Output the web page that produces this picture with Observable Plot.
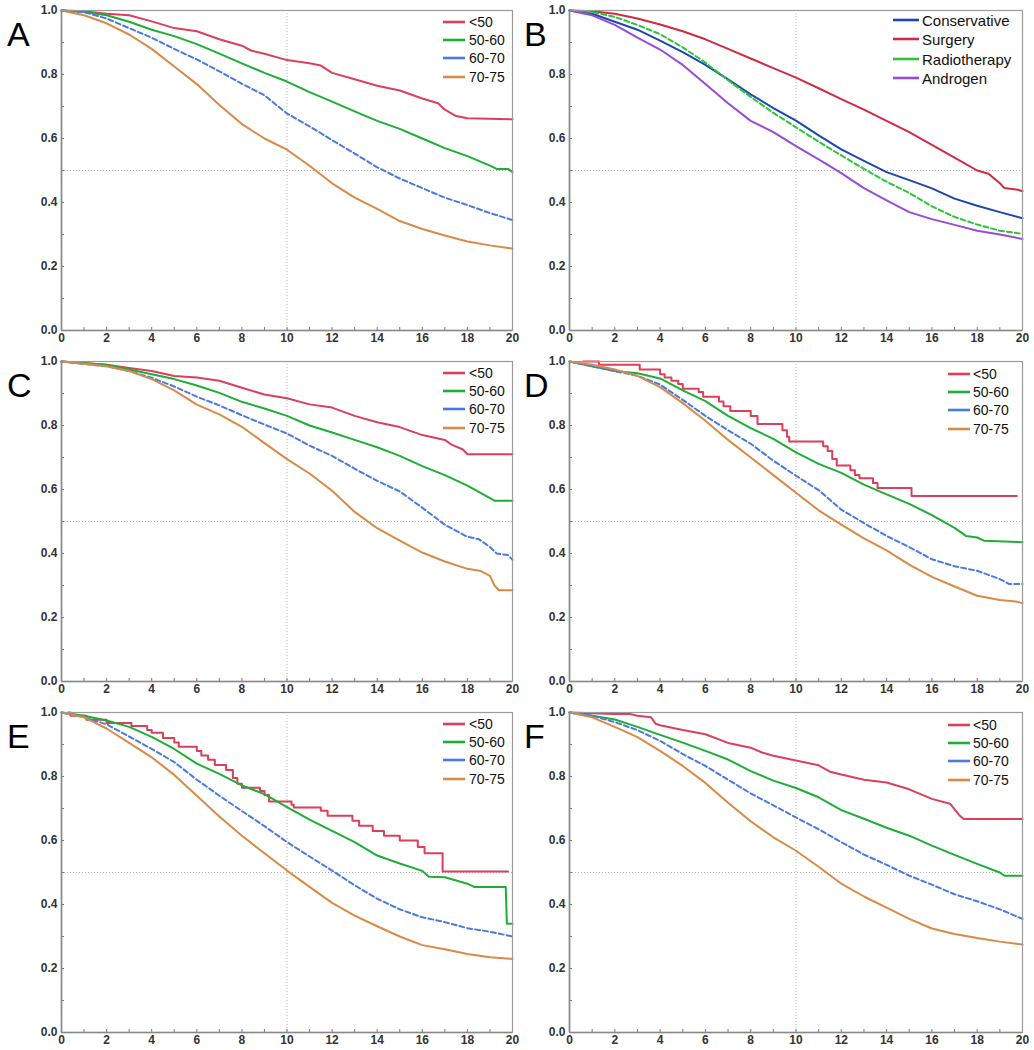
<!DOCTYPE html>
<html>
<head>
<meta charset="utf-8">
<script src="https://cdn.jsdelivr.net/npm/d3@7"></script>
<script src="https://cdn.jsdelivr.net/npm/@observablehq/plot@0.6"></script>
<style>
  html, body { margin: 0; padding: 0; background: #fff; }
  #root { position: relative; width: 1034px; height: 1050px; overflow: hidden; font-family: "Liberation Sans", Arial, sans-serif; }
  .panel { position: absolute; overflow: visible; }
  .panel svg { overflow: visible; }
  .letter { position: absolute; font-size: 34px; line-height: 1; color: #000; }
  .leg { position: absolute; font-size: 14px; color: #111; white-space: nowrap; line-height: 1; }
  .leg svg { position: absolute; top: 50%; transform: translateY(-50%); }
  .leg span { position: absolute; top: 0; transform: translateY(-50%); }
</style>
</head>
<body>
<div id="root"></div>
<script>
// ---------- tick values ----------
const xTicks = [0, 2, 4, 6, 8, 10, 12, 14, 16, 18, 20];
const xMinorTicks = [1, 2, 3, 4, 5, 6, 7, 8, 9, 10, 11, 12, 13, 14, 15, 16, 17, 18, 19];
const yTicks = [0, 0.2, 0.4, 0.6, 0.8, 1.0];
const yMinorTicks = [0.1, 0.2, 0.3, 0.4, 0.5, 0.6, 0.7, 0.8, 0.9];
const ageGroups = ["<50", "50-60", "60-70", "70-75"];
const treatments = ["Conservative", "Surgery", "Radiotherapy", "Androgen"];

// ---------- Panel A (time in years, survival) ----------
const aLt50 = [[0,1],[1,0.998],[2,0.99],[3,0.985],[4,0.966],[5,0.945],[6,0.935],[7,0.91],[8,0.89],[8.4,0.875],[9,0.865],[10,0.845],[11,0.835],[11.5,0.828],[12,0.805],[13,0.785],[14,0.765],[15,0.75],[16,0.725],[16.7,0.71],[17,0.69],[17.5,0.67],[18,0.663],[20,0.66]];
const a5060 = [[0,1],[1,0.995],[2,0.985],[3,0.965],[4,0.94],[5,0.92],[6,0.895],[7,0.865],[8,0.835],[9,0.805],[10,0.778],[11,0.745],[12,0.715],[13,0.685],[14,0.655],[15,0.63],[16,0.6],[17,0.57],[18,0.545],[19,0.515],[19.3,0.505],[19.8,0.505],[20,0.495]];
const a6070 = [[0,1],[1,0.995],[2,0.975],[3,0.945],[4,0.915],[5,0.88],[6,0.847],[7,0.81],[8,0.771],[9,0.735],[10,0.678],[11,0.638],[12,0.595],[13,0.553],[14,0.51],[15,0.475],[16,0.445],[17,0.415],[18,0.392],[19,0.367],[20,0.345]];
const a7075 = [[0,1],[1,0.985],[2,0.96],[3,0.925],[4,0.88],[5,0.825],[6,0.77],[7,0.705],[8,0.645],[9,0.6],[10,0.565],[11,0.515],[12,0.46],[13,0.415],[14,0.38],[15,0.342],[16,0.317],[17,0.297],[18,0.278],[19,0.266],[20,0.256]];

// ---------- Panel B ----------
const bConservative = [[0,1],[1,0.99],[2,0.965],[3,0.94],[4,0.906],[5,0.87],[6,0.83],[7,0.785],[8,0.738],[9,0.695],[10,0.656],[11,0.61],[12,0.566],[13,0.53],[14,0.495],[15,0.47],[16,0.444],[17,0.412],[18,0.39],[19,0.37],[20,0.351]];
const bSurgery = [[0,1],[1,0.998],[2,0.99],[3,0.975],[4,0.956],[5,0.935],[6,0.91],[7,0.88],[8,0.85],[9,0.82],[10,0.79],[11,0.757],[12,0.723],[13,0.69],[14,0.655],[15,0.62],[16,0.58],[17,0.54],[18,0.5],[18.5,0.49],[19,0.46],[19.2,0.445],[19.8,0.44],[20,0.435]];
const bRadiotherapy = [[0,1],[1,0.995],[2,0.98],[3,0.955],[4,0.926],[5,0.885],[6,0.837],[7,0.782],[8,0.73],[9,0.68],[10,0.635],[11,0.59],[12,0.547],[13,0.505],[14,0.465],[15,0.43],[16,0.388],[17,0.355],[18,0.331],[19,0.312],[20,0.302]];
const bAndrogen = [[0,1],[1,0.985],[2,0.955],[3,0.915],[4,0.878],[5,0.83],[6,0.77],[7,0.71],[8,0.655],[9,0.62],[10,0.576],[11,0.535],[12,0.492],[13,0.445],[14,0.407],[15,0.37],[16,0.348],[17,0.33],[18,0.312],[19,0.3],[20,0.286]];

// ---------- Panel C ----------
const cLt50 = [[0,1],[2,0.99],[3,0.98],[4,0.97],[5,0.955],[6,0.95],[7,0.94],[8,0.918],[9,0.897],[10,0.885],[11,0.866],[12,0.856],[13,0.83],[14,0.81],[15,0.795],[16,0.77],[17,0.755],[17.3,0.74],[17.8,0.725],[18,0.71],[20,0.71]];
const c5060 = [[0,1],[2,0.99],[3,0.975],[4,0.96],[5,0.945],[6,0.925],[7,0.902],[8,0.874],[9,0.853],[10,0.83],[11,0.8],[12,0.778],[13,0.755],[14,0.732],[15,0.705],[16,0.673],[17,0.645],[18,0.612],[18.7,0.585],[19.2,0.565],[20,0.565]];
const c6070 = [[0,1],[2,0.985],[3,0.97],[4,0.949],[5,0.922],[6,0.89],[7,0.863],[8,0.832],[9,0.803],[10,0.775],[11,0.737],[12,0.705],[13,0.665],[14,0.627],[15,0.594],[16,0.543],[17,0.49],[18,0.452],[18.5,0.445],[19,0.42],[19.3,0.4],[19.8,0.395],[20,0.38]];
const c7075 = [[0,1],[2,0.985],[3,0.97],[4,0.945],[5,0.91],[6,0.865],[7,0.835],[8,0.796],[9,0.745],[10,0.695],[11,0.65],[12,0.596],[13,0.53],[14,0.479],[15,0.44],[16,0.403],[17,0.375],[18,0.352],[18.6,0.345],[19,0.33],[19.2,0.3],[19.4,0.285],[20,0.285]];

// ---------- Panel D ----------
const dLt50 = [[0.6,1],[1.3,0.99],[3.1,0.975],[4.0,0.96],[4.2,0.95],[4.5,0.94],[4.8,0.93],[5.0,0.915],[5.7,0.905],[5.9,0.89],[6.6,0.875],[6.8,0.86],[7.1,0.845],[8.0,0.83],[8.3,0.805],[9.4,0.785],[9.6,0.765],[9.7,0.75],[11.2,0.735],[11.4,0.72],[11.6,0.695],[11.8,0.675],[12.4,0.66],[12.6,0.645],[12.8,0.635],[13.4,0.62],[13.6,0.605],[15.1,0.58],[19.75,0.58]];
const d5060 = [[0,1],[1,0.985],[2,0.97],[3,0.963],[4,0.947],[5,0.91],[6,0.876],[7,0.83],[8,0.792],[9,0.758],[10,0.716],[11,0.68],[12,0.652],[13,0.615],[14,0.585],[15,0.555],[16,0.52],[17,0.48],[17.5,0.455],[18,0.45],[18.3,0.44],[20,0.435]];
const d6070 = [[0,1],[1,0.985],[2,0.97],[3,0.955],[4,0.928],[5,0.88],[6,0.83],[7,0.785],[8,0.743],[9,0.69],[10,0.643],[11,0.598],[12,0.537],[13,0.495],[14,0.455],[15,0.42],[16,0.382],[17,0.36],[18,0.346],[19,0.32],[19.4,0.305],[20,0.305]];
const d7075 = [[0,1],[1,0.99],[2,0.975],[3,0.955],[4,0.92],[5,0.87],[6,0.815],[7,0.755],[8,0.7],[9,0.645],[10,0.59],[11,0.535],[12,0.49],[13,0.447],[14,0.41],[15,0.365],[16,0.327],[17,0.297],[18,0.268],[19,0.255],[19.7,0.25],[20,0.245]];

// ---------- Panel E ----------
const eLt50 = [[0.3,1],[0.4,0.99],[1.1,0.977],[2.0,0.967],[3.1,0.958],[3.8,0.945],[4.0,0.937],[4.5,0.92],[5.0,0.906],[5.2,0.893],[6.0,0.88],[6.2,0.866],[6.5,0.852],[6.8,0.836],[7.3,0.82],[7.6,0.795],[7.8,0.777],[8.0,0.765],[8.8,0.755],[9.0,0.742],[9.2,0.722],[10.2,0.712],[10.3,0.703],[11.5,0.693],[11.8,0.677],[12.9,0.662],[13.2,0.646],[13.8,0.63],[14.3,0.615],[15.0,0.6],[15.8,0.58],[16.1,0.56],[16.9,0.503],[19.8,0.503]];
const e5060 = [[0,1],[1,0.99],[2,0.975],[3,0.955],[4,0.924],[5,0.886],[6,0.84],[7,0.808],[8,0.772],[9,0.745],[10,0.704],[11,0.665],[12,0.63],[13,0.595],[14,0.553],[15,0.528],[16,0.505],[16.3,0.487],[17,0.485],[18,0.465],[18.3,0.455],[19.7,0.455],[19.75,0.34],[20,0.34]];
const e6070 = [[0,1],[1,0.985],[2,0.963],[3,0.925],[4,0.886],[5,0.845],[6,0.79],[7,0.74],[8,0.692],[9,0.645],[10,0.595],[11,0.55],[12,0.506],[13,0.46],[14,0.418],[15,0.385],[16,0.36],[17,0.345],[18,0.326],[19,0.315],[20,0.3]];
const e7075 = [[0,1],[1,0.985],[2,0.95],[3,0.905],[4,0.86],[5,0.805],[6,0.74],[7,0.675],[8,0.615],[9,0.56],[10,0.506],[11,0.455],[12,0.405],[13,0.365],[14,0.332],[15,0.3],[16,0.273],[17,0.26],[18,0.245],[19,0.235],[20,0.23]];

// ---------- Panel F ----------
const fLt50 = [[0,1],[2,0.995],[2.7,0.995],[3,0.99],[3.6,0.985],[3.8,0.965],[4,0.96],[5,0.945],[6,0.932],[7,0.905],[8,0.89],[8.5,0.875],[9,0.865],[10,0.85],[11,0.835],[11.5,0.815],[12,0.806],[13,0.79],[14,0.781],[15,0.76],[16,0.73],[16.8,0.715],[17.2,0.68],[17.4,0.667],[20,0.667]];
const f5060 = [[0,1],[1,0.99],[2,0.978],[3,0.955],[4,0.93],[5,0.906],[6,0.88],[7,0.853],[8,0.817],[9,0.787],[10,0.764],[11,0.735],[12,0.695],[13,0.668],[14,0.64],[15,0.615],[16,0.584],[17,0.555],[18,0.527],[19,0.5],[19.2,0.49],[20,0.49]];
const f6070 = [[0,1],[1,0.99],[2,0.97],[3,0.945],[4,0.911],[5,0.87],[6,0.833],[7,0.79],[8,0.747],[9,0.71],[10,0.672],[11,0.635],[12,0.595],[13,0.556],[14,0.524],[15,0.49],[16,0.462],[17,0.432],[18,0.41],[19,0.385],[20,0.355]];
const f7075 = [[0,1],[1,0.985],[2,0.955],[3,0.923],[4,0.88],[5,0.833],[6,0.78],[7,0.718],[8,0.66],[9,0.61],[10,0.568],[11,0.518],[12,0.465],[13,0.425],[14,0.39],[15,0.355],[16,0.325],[17,0.308],[18,0.295],[19,0.284],[20,0.275]];

// ---------- styling ----------
const ageStyle = [
  {color: "#dc3f5c", dash: null},
  {color: "#1fae35", dash: null},
  {color: "#4a7bdc", dash: "5,3"},
  {color: "#d98a47", dash: null}
];
const treatStyle = [
  {color: "#1b48ae", dash: null},
  {color: "#d02b40", dash: null},
  {color: "#2ec43a", dash: "5,3"},
  {color: "#9a4bd6", dash: null}
];

const panels = [
  {letter: "A", col: 0, row: 0, names: ageGroups, style: ageStyle, data: [aLt50, a5060, a6070, a7075], step: [false, false, false, false]},
  {letter: "B", col: 1, row: 0, names: treatments, style: treatStyle, data: [bConservative, bSurgery, bRadiotherapy, bAndrogen], step: [false, false, false, false]},
  {letter: "C", col: 0, row: 1, names: ageGroups, style: ageStyle, data: [cLt50, c5060, c6070, c7075], step: [false, false, false, false]},
  {letter: "D", col: 1, row: 1, names: ageGroups, style: ageStyle, data: [dLt50, d5060, d6070, d7075], step: [true, false, false, false]},
  {letter: "E", col: 0, row: 2, names: ageGroups, style: ageStyle, data: [eLt50, e5060, e6070, e7075], step: [true, false, false, false]},
  {letter: "F", col: 1, row: 2, names: ageGroups, style: ageStyle, data: [fLt50, f5060, f6070, f7075], step: [false, false, false, false]}
];

const W = 517, H = 348, MT = 10, MB = 18;
const colLayout = [
  {left: 0, ml: 61, mr: 5},
  {left: 517, ml: 52, mr: 12}
];
const rowTops = [0, 351, 702];

const root = document.getElementById("root");

for (const p of panels) {
  const cl = colLayout[p.col];
  const top = rowTops[p.row];
  const pw = W - cl.ml - cl.mr;
  const ph = H - MT - MB;

  const marks = [
    Plot.ruleX([10], {stroke: "#b5b5b5", strokeDasharray: "1,2", strokeWidth: 1}),
    Plot.ruleY([0.5], {stroke: "#b5b5b5", strokeDasharray: "1,2", strokeWidth: 1}),
    Plot.tickY(yMinorTicks, {y: d => d, insetRight: pw - 3, stroke: "#777"}),
    Plot.tickX(xMinorTicks, {x: d => d, insetTop: ph - 3, stroke: "#777"})
  ];
  p.data.forEach((series, i) => {
    const st = p.style[i];
    marks.push(Plot.line(series, {
      x: d => d[0], y: d => d[1],
      stroke: st.color, strokeWidth: 2,
      strokeDasharray: st.dash || undefined,
      curve: p.step[i] ? "step-after" : "linear"
    }));
  });
  marks.push(Plot.frame({stroke: "#9a9a9a", strokeWidth: 1.2}));
  marks.push(Plot.ruleX([0], {stroke: "#888", strokeWidth: 1.6}));
  marks.push(Plot.ruleY([0], {stroke: "#888", strokeWidth: 1.6}));

  const chart = Plot.plot({
    width: W, height: H,
    marginTop: MT, marginBottom: MB, marginLeft: cl.ml, marginRight: cl.mr,
    style: {fontFamily: '"Liberation Sans", Arial, sans-serif', fontSize: "12px", fontWeight: "bold", color: "#333", background: "transparent", overflow: "visible"},
    x: {domain: [0, 20], ticks: xTicks, tickSize: 0, tickPadding: 3, tickFormat: d => String(d), label: null},
    y: {domain: [0, 1], ticks: yTicks, tickSize: 0, tickPadding: 4, tickFormat: d => d.toFixed(1), label: null},
    marks
  });

  const wrap = document.createElement("div");
  wrap.className = "panel";
  wrap.style.left = cl.left + "px";
  wrap.style.top = top + "px";
  wrap.style.width = W + "px";
  wrap.style.height = H + "px";
  wrap.appendChild(chart);
  root.appendChild(wrap);

  // panel letter
  const L = document.createElement("div");
  L.className = "letter";
  L.textContent = p.letter;
  L.style.left = (cl.left + 7) + "px";
  L.style.top = (top + MT + 7) + "px";
  root.appendChild(L);

  // legend
  const isB = p.letter === "B";
  let lineX, lineW, textX, rows, fs;
  if (isB) { lineX = 376; lineW = 26; textX = 405; rows = [9.5, 29, 48.5, 68]; fs = 15; }
  else if (p.col === 0) { lineX = 443; lineW = 22; textX = 469; rows = [12, 30, 48, 66.5]; fs = 14; }
  else { lineX = 431; lineW = 22; textX = 456; rows = [13, 31, 49, 67.5]; fs = 14; }
  p.names.forEach((name, i) => {
    const st = p.style[i];
    const row = document.createElement("div");
    row.className = "leg";
    row.style.left = (cl.left + lineX) + "px";
    row.style.top = (top + MT + rows[i]) + "px";
    row.style.fontSize = fs + "px";
    const sw = document.createElementNS("http://www.w3.org/2000/svg", "svg");
    sw.setAttribute("width", lineW);
    sw.setAttribute("height", 4);
    sw.style.left = "0px";
    sw.style.top = "0px";
    const ln = document.createElementNS("http://www.w3.org/2000/svg", "line");
    ln.setAttribute("x1", 0); ln.setAttribute("x2", lineW);
    ln.setAttribute("y1", 2); ln.setAttribute("y2", 2);
    ln.setAttribute("stroke", st.color); ln.setAttribute("stroke-width", 2.6);
    sw.appendChild(ln);
    const tx = document.createElement("span");
    tx.style.left = (textX - lineX) + "px";
    tx.textContent = name;
    row.appendChild(sw);
    row.appendChild(tx);
    root.appendChild(row);
  });
}
</script>
</body>
</html>
